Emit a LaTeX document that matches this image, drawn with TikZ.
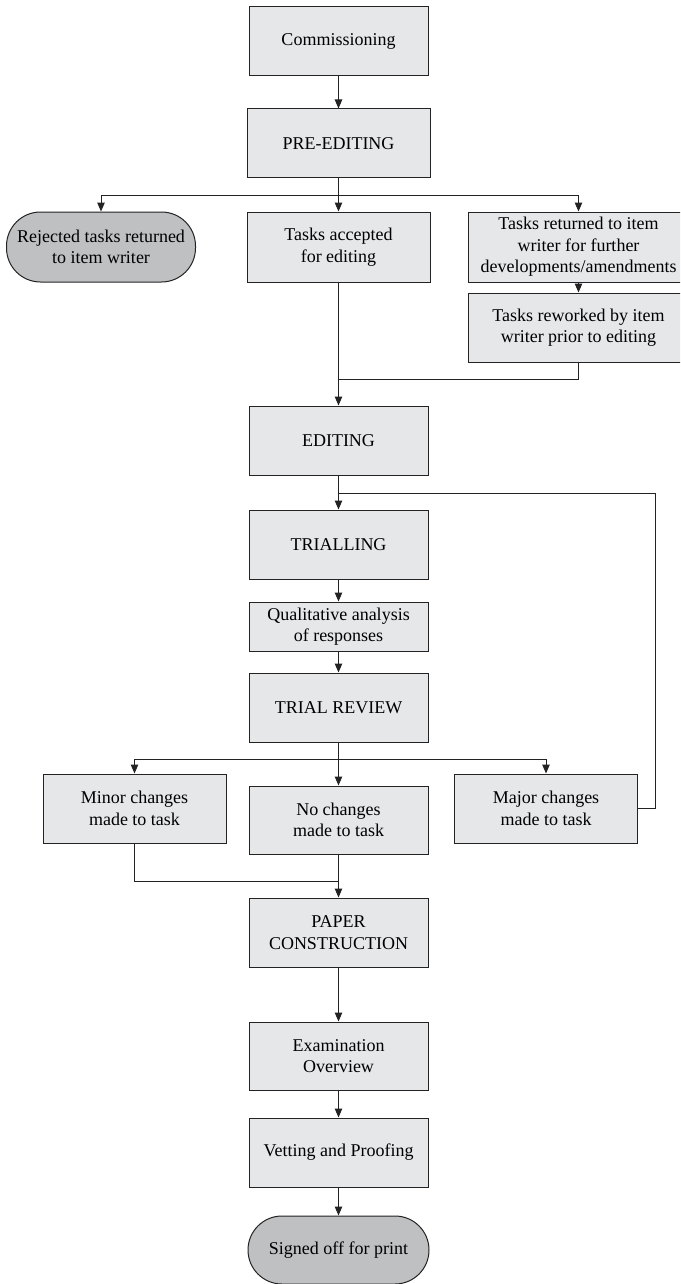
\documentclass[tikz,border=0pt]{standalone}
\usepackage{fontspec}
\setmainfont{Liberation Serif}
\usetikzlibrary{arrows.meta}
\definecolor{boxgray}{RGB}{230,231,232}
\definecolor{termgray}{RGB}{190,192,194}
\definecolor{inkline}{RGB}{35,35,35}
\begin{document}
\begin{tikzpicture}[x=1pt,y=-1pt,
  box/.style={draw=inkline,fill=boxgray,line width=1pt,inner sep=0pt,align=center,
    font=\fontsize{18}{21.5}\selectfont},
  term/.style={box,fill=termgray,rounded corners=34pt},
  link/.style={draw=inkline,line width=1pt},
  arr/.style={link,-{Triangle[length=9pt,width=7.5pt]}}]
\useasboundingbox (0,0) rectangle (680,1284);
\clip (0,0) rectangle (680,1284);

% stages, top to bottom
\node[box,minimum width=179pt,minimum height=69pt] (comm) at (338.5,41) {Commissioning};
\node[box,minimum width=183pt,minimum height=69pt] (pre) at (338.5,143.5) {PRE-EDITING};
\node[term,minimum width=189pt,minimum height=70pt] (rej) at (101,247) {Rejected tasks returned\\to item writer};
\node[box,minimum width=183pt,minimum height=70pt] (acc) at (338.5,247) {Tasks accepted\\for editing};
\node[box,minimum width=221pt,minimum height=70pt] (ret) at (578.5,247) {Tasks returned to item\\writer for further\\developments/amendments};
\node[box,minimum width=221pt,minimum height=69pt] (rew) at (578.5,327.5) {Tasks reworked by item\\writer prior to editing};
\node[box,minimum width=179pt,minimum height=69pt] (edit) at (338.5,440.5) {EDITING};
\node[box,minimum width=179pt,minimum height=69pt] (trial) at (338.5,544.5) {TRIALLING};
\node[box,minimum width=179pt,minimum height=49pt] (qual) at (338.5,626.5) {Qualitative analysis\\of responses};
\node[box,minimum width=179pt,minimum height=69pt] (rev) at (338.5,707.5) {TRIAL REVIEW};
\node[box,minimum width=183pt,minimum height=69pt] (minor) at (134.5,808.5) {Minor changes\\made to task};
\node[box,minimum width=179pt,minimum height=68pt] (none) at (338.5,820) {No changes\\made to task};
\node[box,minimum width=183pt,minimum height=69pt] (major) at (546,808.5) {Major changes\\made to task};
\node[box,minimum width=179pt,minimum height=69pt] (paper) at (338.5,932.5) {PAPER\\CONSTRUCTION};
\node[box,minimum width=179pt,minimum height=68pt] (exam) at (338.5,1056) {Examination\\Overview};
\node[box,minimum width=179pt,minimum height=69pt] (vet) at (338.5,1152.5) {Vetting and Proofing};
\node[term,minimum width=181pt,minimum height=68pt] (sign) at (338.5,1250) {Signed off for print};

% junction points
\coordinate (split1) at (338.5,196);
\coordinate (merge1) at (338.5,379);
\coordinate (loop) at (338.5,493);
\coordinate (loopr) at (655,493);
\coordinate (split2) at (338.5,759);
\coordinate (merge2) at (338.5,881);

% connectors
\draw[arr] (comm) -- (pre);
\draw[arr] (pre.south) -- (acc.north);
\draw[arr] (split1) -| (rej.north);
\draw[arr] (split1) -| (ret.north);
\draw[arr] (ret) -- (rew);
\draw[link] (rew.south) |- (merge1);
\draw[arr] (acc.south) -- (edit.north);
\draw[arr] (edit) -- (trial);
\draw[link] (major.east) -| (loopr) -- (loop);
\draw[arr] (trial) -- (qual);
\draw[arr] (qual) -- (rev);
\draw[arr] (rev.south) -- (none.north);
\draw[arr] (split2) -| (minor.north);
\draw[arr] (split2) -| (major.north);
\draw[link] (minor.south) |- (merge2);
\draw[arr] (none.south) -- (paper.north);
\draw[arr] (paper) -- (exam);
\draw[arr] (exam) -- (vet);
\draw[arr] (vet) -- (sign);
\end{tikzpicture}
\end{document}
